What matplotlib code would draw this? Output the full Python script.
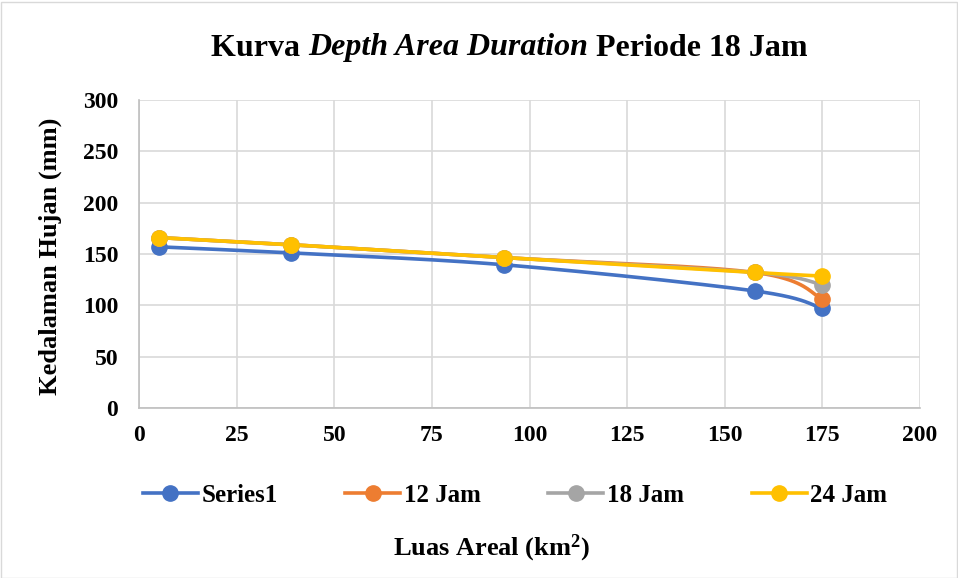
import numpy as np
import matplotlib.pyplot as plt
from matplotlib.lines import Line2D
from matplotlib.patches import Rectangle

plt.rcParams['font.family'] = ['Liberation Serif', 'DejaVu Serif']
plt.rcParams['mathtext.fontset'] = 'custom'
plt.rcParams['mathtext.rm'] = 'Liberation Serif:bold'
plt.rcParams['mathtext.default'] = 'rm'

# data
luas = [5, 39, 93.5, 157.7, 175]
series1 = [157, 151, 139.5, 114, 97]
jam12 = [166, 159, 146.5, 132, 106]
jam18 = [166, 159, 146.5, 132, 120]
jam24 = [166, 159, 146.5, 132, 128.5]
labels = ['Series1', '12 Jam', '18 Jam', '24 Jam']
colors = ['#4472C4', '#ED7D31', '#A5A5A5', '#FFC000']


def smooth(x, y, n=40):
    # excel-like smoothed line (catmull-rom bezier)
    x = np.asarray(x, float)
    y = np.asarray(y, float)
    px = np.concatenate([[x[0]], x, [x[-1]]])
    py = np.concatenate([[y[0]], y, [y[-1]]])
    xs, ys = [], []
    t = np.linspace(0, 1, n)
    for i in range(1, len(px) - 2):
        p0 = np.array([px[i - 1], py[i - 1]])
        p1 = np.array([px[i], py[i]])
        p2 = np.array([px[i + 1], py[i + 1]])
        p3 = np.array([px[i + 2], py[i + 2]])
        c1 = p1 + (p2 - p0) / 6
        c2 = p2 - (p3 - p1) / 6
        b = ((1 - t) ** 3)[:, None] * p1 + (3 * (1 - t) ** 2 * t)[:, None] * c1 \
            + (3 * (1 - t) * t ** 2)[:, None] * c2 + (t ** 3)[:, None] * p2
        xs.extend(b[:, 0])
        ys.extend(b[:, 1])
    return xs, ys


fig = plt.figure(figsize=(9.58, 5.78), dpi=100)
ax = fig.add_axes([139 / 958, 1 - 408 / 578, (920 - 139) / 958, (408 - 100) / 578])

for vals, c in zip([series1, jam12, jam18, jam24], colors):
    sx, sy = smooth(luas, vals)
    ax.plot(sx, sy, color=c, lw=2.6, solid_capstyle='round', zorder=3)
    ax.plot(luas, vals, 'o', color=c, ms=11, zorder=4)

ax.set_xlim(0, 200)
ax.set_ylim(0, 300)
ax.set_xticks(range(0, 201, 25))
ax.set_yticks(range(0, 301, 50))
ax.grid(True, color='#d9d9d9', lw=1.2)
ax.set_axisbelow(True)
for s in ['top', 'right']:
    ax.spines[s].set_visible(False)
for s in ['left', 'bottom']:
    ax.spines[s].set_color('#bfbfbf')
    ax.spines[s].set_linewidth(1.2)
ax.tick_params(length=0, labelsize=17)
ax.tick_params(axis='y', pad=15)
ax.tick_params(axis='x', pad=12)
for lab in ax.get_xticklabels() + ax.get_yticklabels():
    lab.set_fontweight('bold')

fig.text(50 / 958, 1 - 256 / 578, 'Kedalaman Hujan (mm)', rotation=90,
         ha='center', va='center', fontsize=19, fontweight='bold')
fig.text(491 / 958, 1 - 548 / 578, 'Luas Areal (km$^{2}$)', ha='center',
         va='center', fontsize=19, fontweight='bold')

# title with italic middle part
parts = [('Kurva ', 'normal'), ('Depth Area Duration', 'italic'), (' Periode 18 Jam', 'normal')]
r = fig.canvas.get_renderer()
texts = []
for s, st in parts:
    t = fig.text(0, 1 - 48 / 578, s, fontsize=23, fontweight='bold', style=st,
                 va='center', ha='left')
    texts.append(t)
widths = [t.get_window_extent(r).width for t in texts]
x0 = 509.5 - sum(widths) / 2
for t, w in zip(texts, widths):
    t.set_x(x0 / 958)
    x0 += w

handles = [Line2D([], [], color=c, lw=2.6, marker='o', ms=11) for c in colors]
fig.legend(handles, labels, loc='center', bbox_to_anchor=(515 / 958, 1 - 495 / 578),
           ncol=4, frameon=False, handlelength=2.2, handletextpad=0.15,
           columnspacing=2.7, prop={'weight': 'bold', 'size': 18})

fig.patches.append(Rectangle((0.5 / 958, 0.5 / 578), 956 / 958, 576 / 578,
                             transform=fig.transFigure, fill=False,
                             edgecolor='#d9d9d9', lw=1))

fig.savefig('out.png', dpi=100)
